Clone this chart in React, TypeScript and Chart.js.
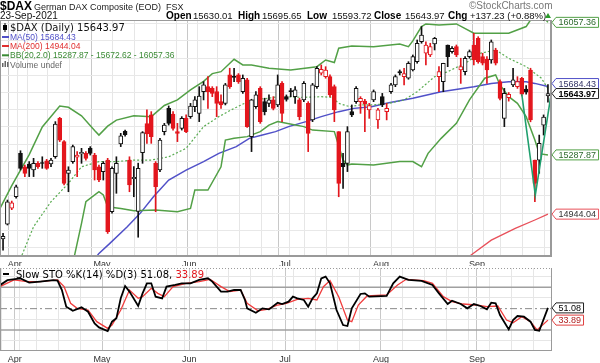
import React, { useEffect, useRef } from 'react';
import { Chart, registerables } from 'chart.js';

Chart.register(...registerables);

// ---------------- data ----------------
const symbol = '$DAX';
const title = 'German DAX Composite (EOD)';
const exchange = 'FSX';
const lastDate = '23-Sep-2021';

const openP = [
  14800, 14886, 14978, 15045, 15297, 15219, 15235, 15200, 15239, 15242,
  15254, 15235, 15277, 15500, 15365, 15181, 15249, 15274, 15293, 15297,
  15326, 15287, 15219, 15191, 15258, 14958, 15181, 15351, 15425, 15258,
  15150, 14960, 15301, 15470, 15520, 15239, 15200, 15423, 15558, 15525,
  15423, 15442, 15500, 15510, 15568, 15529, 15655, 15684, 15674, 15655,
  15597, 15587, 15752, 15745, 15752, 15655, 15723, 15394, 15568, 15674,
  15597, 15587, 15607, 15578, 15703, 15626, 15660, 15626, 15607, 15607,
  15587, 15491, 15684, 15762, 15742, 15742, 15684, 15423, 15239, 15239,
  15539, 15597, 15597, 15600, 15549, 15607, 15491, 15626, 15539, 15655,
  15694, 15772, 15742, 15733, 15781, 15829, 15945, 15878, 15868, 15932,
  15742, 15713, 15926, 15887, 15916, 15781, 15771, 15858, 15926, 15965,
  15858, 15843, 15839, 15897, 15713, 15500, 15620, 15694, 15684, 15733,
  15670, 15781, 15258, 15258, 15461, 15630.01,
];
const highP = [
  14832, 15026, 15020, 15113, 15312, 15229, 15249, 15268, 15249, 15277,
  15262, 15268, 15481, 15506, 15371, 15219, 15345, 15307, 15326, 15307,
  15336, 15297, 15229, 15249, 15268, 15219, 15277, 15413, 15432, 15277,
  15220, 15240, 15423, 15549, 15539, 15249, 15384, 15471, 15572, 15539,
  15471, 15510, 15520, 15587, 15626, 15684, 15713, 15742, 15684, 15684,
  15636, 15703, 15791, 15791, 15760, 15752, 15733, 15611, 15655, 15684,
  15617, 15636, 15626, 15752, 15713, 15636, 15674, 15684, 15617, 15713,
  15597, 15703, 15800, 15810, 15800, 15752, 15694, 15423, 15297, 15452,
  15578, 15684, 15626, 15610, 15587, 15665, 15558, 15645, 15587, 15703,
  15752, 15781, 15791, 15829, 15868, 15955, 16033, 15945, 15936, 15970,
  15800, 15820, 15926, 15916, 15926, 15849, 15858, 15897, 15994, 15974,
  15878, 15858, 15955, 15907, 15723, 15674, 15650, 15791, 15742, 15738,
  15690, 15791, 15258, 15403, 15520, 15695.65,
];
const lowP = [
  14735, 14881, 14970, 15036, 15200, 15162, 15162, 15162, 15210, 15210,
  15204, 15219, 15268, 15365, 15113, 15074, 15239, 15162, 15239, 15258,
  15287, 15142, 15132, 15142, 14832, 14949, 15065, 15336, 15397, 15074,
  15045, 14810, 15239, 15355, 15355, 14958, 15191, 15404, 15461, 15432,
  15365, 15432, 15417, 15500, 15539, 15481, 15607, 15558, 15626, 15510,
  15558, 15578, 15674, 15713, 15703, 15645, 15448, 15307, 15558, 15471,
  15520, 15568, 15549, 15568, 15481, 15600, 15626, 15587, 15491, 15597,
  15307, 15481, 15674, 15752, 15733, 15626, 15481, 15045, 15094, 15191,
  15510, 15587, 15529, 15423, 15500, 15597, 15442, 15568, 15491, 15645,
  15684, 15752, 15694, 15727, 15775, 15820, 15936, 15810, 15858, 15897,
  15655, 15655, 15800, 15878, 15858, 15703, 15752, 15849, 15810, 15820,
  15810, 15703, 15820, 15810, 15607, 15452, 15600, 15684, 15674, 15630,
  15640, 15480, 15016, 15181, 15403, 15593.72,
];
const closeP = [
  14815, 15016, 15010, 15103, 15210, 15181, 15210, 15239, 15219, 15238,
  15210, 15258, 15467, 15374, 15123, 15200, 15336, 15287, 15303, 15268,
  15297, 15200, 15142, 15239, 14842, 15210, 15239, 15398, 15405, 15113,
  15158, 15210, 15417, 15410, 15394, 15103, 15374, 15461, 15471, 15442,
  15413, 15500, 15423, 15572, 15607, 15630, 15694, 15655, 15645, 15587,
  15578, 15694, 15684, 15737, 15713, 15733, 15452, 15607, 15636, 15481,
  15539, 15607, 15558, 15694, 15529, 15610, 15655, 15665, 15510, 15703,
  15413, 15694, 15791, 15785, 15780, 15636, 15549, 15123, 15219, 15423,
  15520, 15674, 15616, 15585, 15574, 15655, 15549, 15578, 15558, 15694,
  15742, 15764, 15760, 15820, 15858, 15936, 15984, 15926, 15916, 15965,
  15771, 15820, 15858, 15907, 15868, 15800, 15849, 15887, 15839, 15829,
  15820, 15781, 15945, 15820, 15616, 15645, 15640, 15723, 15713, 15640,
  15652, 15491, 15123, 15355, 15506.74, 15643.97,
];

const monthTickIdx = [3, 23, 43, 65, 87, 109];
const monthLabels = ['Apr', 'May', 'Jun', 'Jul', 'Aug', 'Sep'];
const weekStartIdx = [0, 4, 8, 13, 18, 23, 28, 33, 38, 42, 47, 52, 57, 62, 67, 72, 77, 82, 87, 92, 97, 102, 107, 112, 117, 122];
const priceLabels = [14800, 14900, 15000, 15100, 15200, 15300, 15400, 15500, 15600, 15700, 15800, 15900, 16000];

const bbUpperX = [-0.7, 2, 6, 9, 13, 15, 18, 21, 22, 24, 26, 30, 34, 37, 40, 43, 46, 48, 50, 53, 55, 57, 61, 66, 72, 74, 76, 77, 80, 85, 91, 93, 94, 96, 97, 100, 104, 108, 116, 120, 121, 122, 123.5, 125];
const bbUpperY = [14977, 15110, 15290, 15450, 15572, 15564, 15515, 15430, 15403, 15455, 15490, 15515, 15510, 15575, 15607, 15665, 15715, 15760, 15771, 15843, 15810, 15810, 15791, 15781, 15800, 15839, 15824, 15907, 15920, 15916, 15932, 15916, 15950, 16033, 16048, 16042, 16048, 15994, 15994, 16033, 16071, 16115, 16105, 16057.36];
const bbLowerX = [15, 16.5, 18, 19, 22, 23, 24, 27, 30, 35, 40, 43, 44, 47, 50, 51, 53, 56, 59, 61, 63, 65, 69, 71, 76, 78, 79, 80, 85, 91, 94, 96, 97.5, 100.5, 104, 107, 110.5, 113, 114, 116, 118, 120, 122, 123, 125];
const bbLowerY = [14550, 14716, 14890, 15016, 15074, 15055, 14987, 14977, 14964, 14968, 14958, 14977, 15084, 15084, 15219, 15374, 15384, 15394, 15423, 15461, 15481, 15471, 15452, 15432, 15423, 15258, 15229, 15235, 15229, 15249, 15249, 15219, 15297, 15384, 15471, 15607, 15733, 15752, 15694, 15626, 15587, 15510, 15374, 15295, 15287.87];
const bbMidX = [2.5, 4.5, 7, 11, 15, 18, 22, 26, 30, 34, 38, 42, 46, 49.5, 53, 57, 61, 63, 69, 73, 75.5, 77, 79.5, 82, 85, 88.5, 92, 95, 99, 102, 106, 109.5, 113, 116, 120, 123.5, 125];
const bbMidY = [14600, 14716, 14871, 15016, 15123, 15219, 15249, 15249, 15258, 15258, 15277, 15326, 15452, 15510, 15558, 15607, 15617, 15626, 15622, 15626, 15622, 15587, 15568, 15578, 15578, 15587, 15607, 15655, 15742, 15771, 15820, 15878, 15897, 15849, 15800, 15733, 15672.62];
const ma50X = [20, 22, 24.5, 28.5, 31.5, 34.5, 38, 42, 46, 49.5, 53.5, 56.5, 59.5, 62.5, 65.5, 69.5, 73, 77, 80.5, 84.5, 88.5, 94, 100.5, 108, 112, 116, 120, 122, 125];
const ma50Y = [14650, 14716, 14774, 14871, 14950, 15045, 15142, 15200, 15249, 15297, 15336, 15384, 15403, 15423, 15452, 15481, 15510, 15539, 15558, 15568, 15591, 15617, 15655, 15684, 15703, 15713, 15713, 15703, 15684.43];
const ma200X = [105, 107, 112, 117.5, 122, 125];
const ma200Y = [14650, 14700, 14793, 14861, 14910, 14944.04];
const trendX = [119, 122.1, 125.6];
const trendY = [15640, 15055, 15620];

const kX = [-0.7, 1, 4, 6, 8.5, 11.5, 12.5, 13.5, 14.5, 16, 18, 19.5, 21, 22, 24, 25, 26, 27, 28, 29, 31, 32, 33, 34, 35, 36.5, 37.5, 39.5, 41, 43, 45, 47, 48, 50, 51.5, 53, 54.5, 55.5, 56, 58, 59.5, 61, 63, 64, 65.5, 66.5, 67.5, 69, 70, 71, 72, 73, 74, 75, 76.5, 78, 79, 80, 82, 83, 84, 88, 89.5, 91, 93, 96, 98.5, 100, 102, 103, 105, 106.5, 108, 109.5, 111, 112, 113, 114, 116, 117, 118, 119.5, 121, 122, 123, 125];
const kY = [83, 90, 92.6, 86.5, 88, 90, 89.4, 76, 52.8, 47, 51.8, 45.7, 29.3, 23.7, 18.5, 31.7, 36.4, 64.5, 81.8, 73.9, 53.7, 71.5, 85.6, 85.6, 66.8, 64.5, 80.9, 83.3, 85.6, 85.6, 90.3, 92.6, 88, 73.9, 73.9, 76.2, 76.2, 62.2, 50.4, 44.3, 50.4, 49, 58.4, 56.5, 59.8, 66.8, 64.5, 62.2, 52.8, 64.5, 71.5, 92.6, 95, 85.6, 48.1, 27, 25.6, 50.4, 70.6, 71.5, 66.8, 67.8, 85.6, 95, 90.3, 88.9, 83.3, 71.5, 56.5, 61.2, 56.5, 50.4, 56.5, 53.7, 49, 58.4, 57.5, 41, 20.9, 34, 39.6, 38.7, 31.7, 20, 19, 51.08];
const dX = [-0.7, 2.5, 5.5, 8.5, 12.5, 14, 15.5, 17, 19.5, 21.5, 24, 25, 27, 29, 31, 32, 34, 35.5, 37, 39, 42, 45, 47.5, 50, 52, 54.5, 56, 58.5, 60.5, 63, 65, 67.5, 70, 72, 73.5, 75, 77, 79, 80, 81.5, 83.5, 88, 90.5, 92.5, 96.5, 98.5, 101, 103, 105.5, 108.5, 111, 113.5, 115.5, 117, 119, 121, 122.5, 125];
const dY = [81, 90.3, 88, 88, 90.3, 80.9, 57.5, 50.4, 48.1, 31.7, 22.3, 27, 48.1, 76.2, 64.5, 66.8, 78.6, 71.5, 66.8, 80.9, 85.6, 88, 91.2, 80.9, 73.9, 76.2, 57.5, 47.1, 49, 55.1, 57.5, 63.1, 64.5, 62.2, 80.9, 89.4, 66.8, 34, 31.7, 55.1, 67.8, 69.2, 83.3, 91.2, 89.4, 85.6, 66.8, 59.8, 56.5, 55.1, 52.8, 53.7, 34, 30.3, 38.7, 31.7, 20, 33.89];
const stoLevels = [20, 50, 80];
const stoGrid = [5, 35, 65, 95];
const stoLabels = [20, 80];

// ---------------- styling ----------------
const X_MIN = -0.7;
const X_MAX = 125.7;
const Y_MIN = 14701;
const Y_MAX = 16071;
const STO_MIN = -8.1;
const STO_MAX = 107.1;
const TICK_SHIFT = 0.3;

const RED = '#e3161d';
const BLACK = '#111111';
const GREEN = '#52a046';
const BLUE = '#5050c8';
const MA200C = '#e8505a';
const TEAL = '#1f9f6e';
const SANS = '"Liberation Sans", Arial, sans-serif';
const WIDE = '"DejaVu Sans", Verdana, sans-serif';

const pts = (xs: number[], ys: number[]) => xs.map((x, i) => ({ x, y: ys[i] }));
const lastOf = (a: number[]) => a[a.length - 1];
const n = closeP.length;
const strokeCol = closeP.map((c, i) => (i === 0 || c >= closeP[i - 1] ? BLACK : RED));
const fillCol = closeP.map((c, i) => (c >= openP[i] ? '#ffffff' : strokeCol[i]));
const gridIdx = Array.from(new Set([...weekStartIdx, ...monthTickIdx])).sort((a, b) => a - b);

function xAxis(height: number, pad: number) {
  return {
    type: 'linear',
    min: X_MIN,
    max: X_MAX,
    offset: false,
    afterBuildTicks: (s: any) => { s.ticks = gridIdx.map((v) => ({ value: v - TICK_SHIFT })); },
    afterFit: (s: any) => { s.height = height; s.paddingLeft = 0; s.paddingRight = 0; },
    grid: {
      drawTicks: false,
      color: (c: any) => (c.tick && monthTickIdx.includes(Math.round(c.tick.value + TICK_SHIFT)) ? '#c8c8c8' : '#e6e6e6'),
    },
    border: { display: true, color: '#9a9a9a' },
    ticks: {
      autoSkip: false, maxRotation: 0, minRotation: 0, padding: pad, color: '#333',
      font: { family: SANS, size: 9 },
      callback: (v: any) => {
        const k = monthTickIdx.indexOf(Math.round(Number(v) + TICK_SHIFT));
        return k >= 0 ? monthLabels[k] : '';
      },
    },
  };
}

function drawTag(ctx: CanvasRenderingContext2D, y: number, text: string, border: string, color: string, bold = false) {
  ctx.font = `${bold ? 'bold ' : ''}9px ${SANS}`;
  const w = ctx.measureText(text).width;
  const x0 = 552;
  const left = x0 + 4;
  const right = left + w + 5;
  const h = 10;
  ctx.beginPath();
  ctx.moveTo(x0, y);
  ctx.lineTo(left, y - h / 2);
  ctx.lineTo(right, y - h / 2);
  ctx.lineTo(right, y + h / 2);
  ctx.lineTo(left, y + h / 2);
  ctx.closePath();
  ctx.fillStyle = '#ffffff';
  ctx.fill();
  ctx.strokeStyle = border;
  ctx.lineWidth = 1;
  ctx.stroke();
  ctx.fillStyle = color;
  ctx.textAlign = 'left';
  ctx.textBaseline = 'middle';
  ctx.fillText(text, left + 2.5, y + 0.5);
}

const mainDecor = {
  id: 'mainDecor',
  afterDraw(chart: any) {
    const { ctx, chartArea: ca } = chart;
    const ys = chart.scales.y;
    ctx.save();
    ctx.strokeStyle = '#9a9a9a';
    ctx.lineWidth = 1;
    ctx.strokeRect(ca.left + 0.5, ca.top + 0.5, ca.right - ca.left - 1, ca.bottom - ca.top - 1);

    // header
    ctx.textAlign = 'left';
    ctx.textBaseline = 'alphabetic';
    ctx.fillStyle = '#000';
    ctx.font = `bold 12px ${SANS}`;
    ctx.fillText(symbol, 0, 10);
    ctx.font = `9px ${SANS}`;
    ctx.fillStyle = '#222';
    ctx.fillText(`${title}  ${exchange}`, 34, 9.5);
    ctx.font = `10px ${SANS}`;
    ctx.fillStyle = '#777';
    ctx.fillText('\u00A9StockCharts.com', 469, 9);
    ctx.fillStyle = '#111';
    ctx.font = `10px ${SANS}`;
    ctx.fillText(lastDate, 0, 19);
    const last = n - 1;
    const chg = closeP[last] - closeP[last - 1];
    const pct = (chg / closeP[last - 1]) * 100;
    const items: [string, string, number, number][] = [
      ['Open', openP[last].toFixed(2), 166, 193],
      ['High', highP[last].toFixed(2), 238, 262],
      ['Low', lowP[last].toFixed(2), 307, 332],
      ['Close', closeP[last].toFixed(2), 374, 405],
      ['Chg', `+${chg.toFixed(2)} (+${pct.toFixed(2)}%)`, 448, 470],
    ];
    items.forEach(([lab, val, lx, vx]) => {
      ctx.font = `bold 10px ${SANS}`;
      ctx.fillStyle = '#000';
      ctx.fillText(lab, lx, 19);
      ctx.font = `9.5px ${SANS}`;
      ctx.fillStyle = '#111';
      ctx.fillText(val, vx, 19);
    });
    ctx.fillStyle = '#2a9a2a';
    ctx.beginPath();
    ctx.moveTo(545, 18);
    ctx.lineTo(551, 18);
    ctx.lineTo(548, 13);
    ctx.closePath();
    ctx.fill();

    // legend
    ctx.fillStyle = '#000';
    ctx.fillRect(4.5, 23, 1, 9);
    ctx.fillRect(3, 25, 4, 5);
    ctx.font = `10px ${WIDE}`;
    ctx.fillStyle = '#111';
    ctx.fillText(`${symbol} (Daily) ${closeP[last].toFixed(2)}`, 10, 30.5);
    const leg: [string, string, number][] = [
      [`MA(50) ${lastOf(ma50Y).toFixed(2)}`, BLUE, 40],
      [`MA(200) ${lastOf(ma200Y).toFixed(2)}`, '#e03030', 49],
      [`BB(20,2.0) ${lastOf(bbLowerY).toFixed(2)} - ${lastOf(bbMidY).toFixed(2)} - ${lastOf(bbUpperY).toFixed(2)}`, '#3a8a34', 58.3],
    ];
    ctx.font = `8.5px ${SANS}`;
    leg.forEach(([t, c, by]) => {
      ctx.fillStyle = c;
      ctx.fillRect(2, by - 4, 7, 2);
      ctx.fillText(t, 10, by);
    });
    ctx.fillStyle = '#666';
    ctx.fillRect(2, 63, 1.5, 4);
    ctx.fillRect(4.5, 61, 1.5, 6);
    ctx.fillRect(7, 62, 1.5, 5);
    ctx.fillText('Volume undef', 10, 67.5);

    // right tags
    const yClose = ys.getPixelForValue(closeP[last]);
    let yMa = ys.getPixelForValue(lastOf(ma50Y));
    if (Math.abs(yMa - yClose) < 10) yMa = yClose - 10;
    drawTag(ctx, ys.getPixelForValue(lastOf(bbUpperY)), lastOf(bbUpperY).toFixed(2), GREEN, '#2d6a2d');
    drawTag(ctx, yMa, lastOf(ma50Y).toFixed(2), BLUE, '#333366');
    drawTag(ctx, yClose, closeP[last].toFixed(2), '#222', '#000', true);
    drawTag(ctx, ys.getPixelForValue(lastOf(bbLowerY)), lastOf(bbLowerY).toFixed(2), GREEN, '#2d6a2d');
    drawTag(ctx, ys.getPixelForValue(lastOf(ma200Y)), lastOf(ma200Y).toFixed(2), MA200C, '#333');
    ctx.restore();
  },
};

const stoDecor = {
  id: 'stoDecor',
  afterDraw(chart: any) {
    const { ctx, chartArea: ca } = chart;
    const ys = chart.scales.y;
    ctx.save();
    ctx.strokeStyle = '#9a9a9a';
    ctx.lineWidth = 1;
    ctx.beginPath();
    ctx.moveTo(ca.left + 0.5, ca.top);
    ctx.lineTo(ca.left + 0.5, ca.bottom);
    ctx.stroke();
    ctx.setLineDash([1, 2]);
    ctx.beginPath();
    ctx.moveTo(ca.left, ca.top + 0.5);
    ctx.lineTo(ca.right, ca.top + 0.5);
    ctx.stroke();
    ctx.setLineDash([]);

    const kLast = lastOf(kY).toFixed(2);
    const dLast = lastOf(dY).toFixed(2);
    ctx.fillStyle = '#000';
    ctx.fillRect(3, 7, 6, 2);
    ctx.font = `10px ${WIDE}`;
    ctx.textAlign = 'left';
    ctx.textBaseline = 'alphabetic';
    const t1 = `Slow STO %K(14) %D(3) ${kLast}, `;
    ctx.fillText(t1, 16, 11.5);
    const w1 = ctx.measureText(t1).width;
    ctx.fillStyle = RED;
    ctx.fillText(dLast, 16 + w1, 11.5);

    drawTag(ctx, ys.getPixelForValue(lastOf(kY)), kLast, '#222', '#000');
    drawTag(ctx, ys.getPixelForValue(lastOf(dY)), dLast, '#e04040', '#b02020');
    ctx.restore();
  },
};

function mainConfig(): any {
  return {
    type: 'bar',
    data: {
      datasets: [
        { type: 'line', label: 'trend', data: pts(trendX, trendY), borderColor: TEAL, borderWidth: 1.6, pointRadius: 0, order: 0, clip: 0 },
        {
          type: 'bar', label: 'body', data: openP.map((o, i) => ({ x: i, y: [o, closeP[i]] })),
          backgroundColor: fillCol, borderColor: strokeCol, borderWidth: 1, borderSkipped: false,
          barThickness: 4, minBarLength: 1, grouped: false, order: 1,
        },
        {
          type: 'bar', label: 'wick', data: lowP.map((l, i) => ({ x: i, y: [l, highP[i]] })),
          backgroundColor: strokeCol, borderWidth: 0, barThickness: 1, grouped: false, order: 2,
        },
        { type: 'line', label: 'BB upper', data: pts(bbUpperX, bbUpperY), borderColor: GREEN, borderWidth: 1.5, pointRadius: 0, order: 3, clip: 0 },
        { type: 'line', label: 'BB lower', data: pts(bbLowerX, bbLowerY), borderColor: GREEN, borderWidth: 1.5, pointRadius: 0, order: 3, clip: 0 },
        { type: 'line', label: 'BB mid', data: pts(bbMidX, bbMidY), borderColor: '#5aac52', borderWidth: 1.2, borderDash: [2, 2], pointRadius: 0, order: 3, clip: 0 },
        { type: 'line', label: 'MA50', data: pts(ma50X, ma50Y), borderColor: BLUE, borderWidth: 1.5, pointRadius: 0, order: 3, clip: 0 },
        { type: 'line', label: 'MA200', data: pts(ma200X, ma200Y), borderColor: MA200C, borderWidth: 1.3, pointRadius: 0, order: 3, clip: 0 },
      ],
    },
    options: {
      animation: false,
      responsive: false,
      maintainAspectRatio: false,
      devicePixelRatio: 1,
      layout: { padding: { top: 20, left: 0, right: 0, bottom: 0 } },
      plugins: { legend: { display: false }, tooltip: { enabled: false } },
      scales: {
        x: xAxis(10, 3),
        y: {
          position: 'right',
          min: Y_MIN,
          max: Y_MAX,
          afterBuildTicks: (s: any) => {
            const t: any[] = [];
            for (let v = 14750; v <= 16050; v += 50) t.push({ value: v });
            s.ticks = t;
          },
          afterFit: (s: any) => { s.width = 49; s.paddingTop = 0; s.paddingBottom = 0; },
          grid: { drawTicks: false, color: '#e8e8e8' },
          border: { display: true, color: '#9a9a9a' },
          ticks: {
            padding: 6, color: '#333', font: { family: SANS, size: 9 },
            callback: (v: any) => (priceLabels.includes(Number(v)) ? String(v) : ''),
          },
        },
      },
    },
    plugins: [mainDecor],
  };
}

function stoConfig(): any {
  const level = (v: number) => [{ x: X_MIN, y: v }, { x: X_MAX, y: v }];
  return {
    type: 'line',
    data: {
      datasets: [
        { label: '%K', data: pts(kX, kY), borderColor: '#000', borderWidth: 1.8, pointRadius: 0, order: 0, clip: 0 },
        { label: '%D', data: pts(dX, dY), borderColor: '#f03c3c', borderWidth: 1.3, pointRadius: 0, order: 1, clip: 0 },
        { label: 'L80', data: level(stoLevels[2]), borderColor: '#a0a0a0', borderWidth: 1.5, pointRadius: 0, order: 2 },
        { label: 'L50', data: level(stoLevels[1]), borderColor: '#8a8a8a', borderWidth: 1, borderDash: [7, 3, 2, 3], pointRadius: 0, order: 2 },
        { label: 'L20', data: level(stoLevels[0]), borderColor: '#a0a0a0', borderWidth: 1.5, pointRadius: 0, order: 2 },
      ],
    },
    options: {
      animation: false,
      responsive: false,
      maintainAspectRatio: false,
      devicePixelRatio: 1,
      layout: { padding: { top: 2, left: 0, right: 0, bottom: 0 } },
      plugins: { legend: { display: false }, tooltip: { enabled: false } },
      scales: {
        x: xAxis(13, 4),
        y: {
          position: 'right',
          min: STO_MIN,
          max: STO_MAX,
          afterBuildTicks: (s: any) => {
            s.ticks = [...stoGrid, ...stoLevels].sort((a, b) => a - b).map((v) => ({ value: v }));
          },
          afterFit: (s: any) => { s.width = 49; s.paddingTop = 0; s.paddingBottom = 0; },
          grid: { drawTicks: false, color: (c: any) => (c.tick && stoGrid.includes(c.tick.value) ? '#e6e6e6' : 'rgba(0,0,0,0)') },
          border: { display: true, color: '#9a9a9a' },
          ticks: {
            padding: 6, color: '#333', font: { family: SANS, size: 9 },
            callback: (v: any) => (stoLabels.includes(Number(v)) ? String(v) : ''),
          },
        },
      },
    },
    plugins: [stoDecor],
  };
}

export default function App() {
  const mainRef = useRef<HTMLCanvasElement>(null);
  const stoRef = useRef<HTMLCanvasElement>(null);
  useEffect(() => {
    document.body.style.margin = '0';
    const main = new Chart(mainRef.current as HTMLCanvasElement, mainConfig());
    const sto = new Chart(stoRef.current as HTMLCanvasElement, stoConfig());
    return () => {
      main.destroy();
      sto.destroy();
    };
  }, []);
  return (
    <div style={{ position: 'absolute', left: 0, top: 0, width: 600, height: 363, background: '#fff' }}>
      <canvas ref={mainRef} width={600} height={266} style={{ position: 'absolute', left: 0, top: 0, width: 600, height: 266 }} />
      <canvas ref={stoRef} width={600} height={97} style={{ position: 'absolute', left: 0, top: 266, width: 600, height: 97 }} />
    </div>
  );
}
